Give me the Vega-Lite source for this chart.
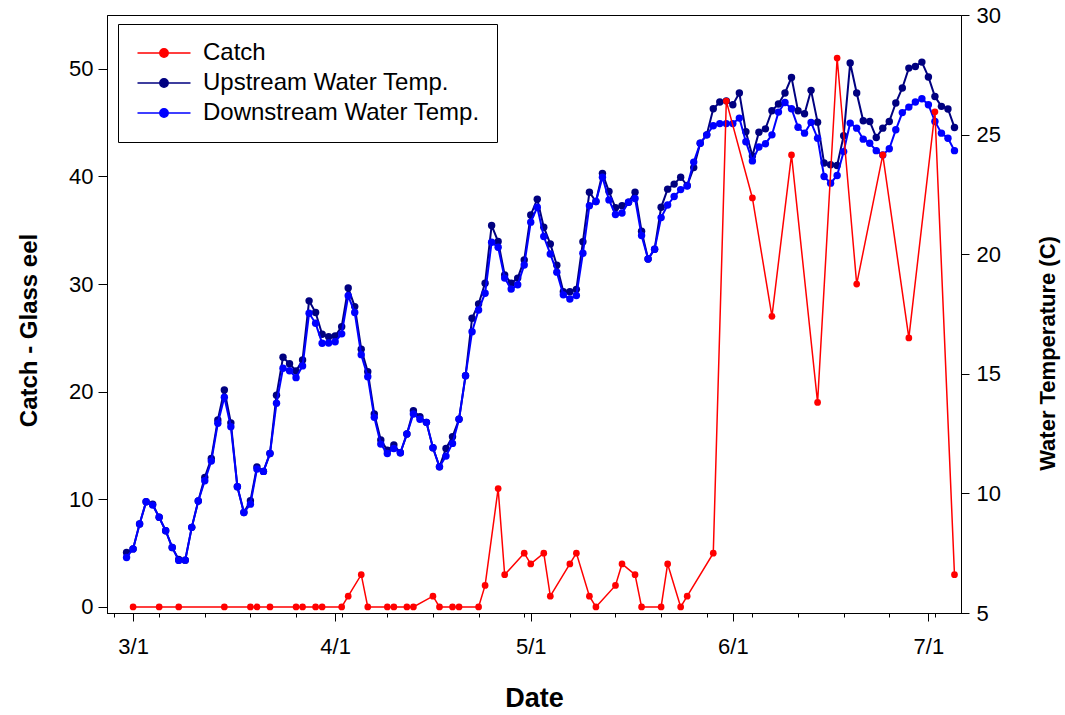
{
  "$schema": "https://vega.github.io/schema/vega-lite/v6.json",
  "width": 854,
  "height": 598,
  "autosize": {"type": "none"},
  "padding": {"left": 107, "top": 15, "right": 104, "bottom": 102},
  "background": "white",
  "config": {
    "view": {"stroke": "black", "strokeWidth": 1},
    "font": "Liberation Sans",
    "axis": {"grid": false, "domainColor": "black", "tickColor": "black", "labelColor": "black", "titleColor": "black", "labelFont": "Liberation Sans", "titleFont": "Liberation Sans", "labelFontSize": 22, "titleFontSize": 27, "titleFontWeight": "bold", "domainWidth": 1, "tickWidth": 1}
  },
  "datasets": {
    "temp": [
      {"d":"2006-02-28","u":7.53,"w":7.32},{"d":"2006-03-01","u":7.68,"w":7.68},{"d":"2006-03-02","u":8.72,"w":8.72},{"d":"2006-03-03","u":9.65,"w":9.65},{"d":"2006-03-04","u":9.55,"w":9.51},{"d":"2006-03-05","u":9.0,"w":9.0},{"d":"2006-03-06","u":8.44,"w":8.44},{"d":"2006-03-07","u":7.74,"w":7.74},{"d":"2006-03-08","u":7.24,"w":7.2},{"d":"2006-03-09","u":7.21,"w":7.21},{"d":"2006-03-10","u":8.58,"w":8.58},{"d":"2006-03-11","u":9.68,"w":9.68},{"d":"2006-03-12","u":10.67,"w":10.53},{"d":"2006-03-13","u":11.46,"w":11.35},{"d":"2006-03-14","u":13.07,"w":12.93},{"d":"2006-03-15","u":14.32,"w":14.02},{"d":"2006-03-16","u":12.95,"w":12.79},{"d":"2006-03-17","u":10.28,"w":10.28},{"d":"2006-03-18","u":9.2,"w":9.2},{"d":"2006-03-19","u":9.69,"w":9.55},{"d":"2006-03-20","u":11.11,"w":11.02},{"d":"2006-03-21","u":10.92,"w":10.92},{"d":"2006-03-22","u":11.67,"w":11.67},{"d":"2006-03-23","u":14.1,"w":13.77},{"d":"2006-03-24","u":15.69,"w":15.23},{"d":"2006-03-25","u":15.42,"w":15.13},{"d":"2006-03-26","u":15.12,"w":14.84},{"d":"2006-03-27","u":15.58,"w":15.33},{"d":"2006-03-28","u":18.05,"w":17.53},{"d":"2006-03-29","u":17.56,"w":17.11},{"d":"2006-03-30","u":16.65,"w":16.28},{"d":"2006-03-31","u":16.55,"w":16.29},
      {"d":"2006-04-01","u":16.58,"w":16.34},{"d":"2006-04-02","u":16.97,"w":16.67},{"d":"2006-04-03","u":18.59,"w":18.26},{"d":"2006-04-04","u":17.81,"w":17.56},{"d":"2006-04-05","u":16.03,"w":15.8},{"d":"2006-04-06","u":15.09,"w":14.88},{"d":"2006-04-07","u":13.32,"w":13.18},{"d":"2006-04-08","u":12.23,"w":12.06},{"d":"2006-04-09","u":11.81,"w":11.67},{"d":"2006-04-10","u":12.02,"w":11.88},{"d":"2006-04-11","u":11.7,"w":11.7},{"d":"2006-04-12","u":12.48,"w":12.48},{"d":"2006-04-13","u":13.46,"w":13.32},{"d":"2006-04-14","u":13.21,"w":13.1},{"d":"2006-04-15","u":12.97,"w":12.97},{"d":"2006-04-16","u":11.91,"w":11.91},{"d":"2006-04-17","u":11.11,"w":11.11},{"d":"2006-04-18","u":11.88,"w":11.56},{"d":"2006-04-19","u":12.37,"w":12.09},{"d":"2006-04-20","u":13.1,"w":13.1},{"d":"2006-04-21","u":14.92,"w":14.92},{"d":"2006-04-22","u":17.32,"w":16.76},{"d":"2006-04-23","u":17.92,"w":17.67},{"d":"2006-04-24","u":18.79,"w":18.37},{"d":"2006-04-25","u":21.2,"w":20.5},{"d":"2006-04-26","u":20.53,"w":20.29},{"d":"2006-04-27","u":19.13,"w":19.0},{"d":"2006-04-28","u":18.79,"w":18.54},{"d":"2006-04-29","u":19.0,"w":18.72},{"d":"2006-04-30","u":19.76,"w":19.55},
      {"d":"2006-05-01","u":21.64,"w":21.34},{"d":"2006-05-02","u":22.3,"w":21.96},{"d":"2006-05-03","u":21.13,"w":20.74},{"d":"2006-05-04","u":20.43,"w":20.01},{"d":"2006-05-05","u":19.54,"w":19.25},{"d":"2006-05-06","u":18.43,"w":18.3},{"d":"2006-05-07","u":18.43,"w":18.13},{"d":"2006-05-08","u":18.53,"w":18.27},{"d":"2006-05-09","u":20.52,"w":20.04},{"d":"2006-05-10","u":22.59,"w":22.03},{"d":"2006-05-11","u":22.2,"w":22.2},{"d":"2006-05-12","u":23.38,"w":23.22},{"d":"2006-05-13","u":22.62,"w":22.27},{"d":"2006-05-14","u":21.94,"w":21.66},{"d":"2006-05-15","u":22.03,"w":21.72},{"d":"2006-05-16","u":22.17,"w":22.17},{"d":"2006-05-17","u":22.59,"w":22.33},{"d":"2006-05-18","u":20.96,"w":20.78},{"d":"2006-05-19","u":19.8,"w":19.8},{"d":"2006-05-20","u":20.21,"w":20.21},{"d":"2006-05-21","u":21.96,"w":21.53},{"d":"2006-05-22","u":22.72,"w":22.06},{"d":"2006-05-23","u":22.93,"w":22.41},{"d":"2006-05-24","u":23.22,"w":22.7},{"d":"2006-05-25","u":22.87,"w":22.85},{"d":"2006-05-26","u":23.62,"w":23.85},{"d":"2006-05-27","u":24.64,"w":24.64},{"d":"2006-05-28","u":24.99,"w":24.99},{"d":"2006-05-29","u":26.08,"w":25.37},{"d":"2006-05-30","u":26.36,"w":25.46},{"d":"2006-05-31","u":26.41,"w":25.46},
      {"d":"2006-06-01","u":26.25,"w":25.46},{"d":"2006-06-02","u":26.74,"w":25.69},{"d":"2006-06-03","u":25.12,"w":24.7},{"d":"2006-06-04","u":24.11,"w":23.9},{"d":"2006-06-05","u":25.1,"w":24.48},{"d":"2006-06-06","u":25.24,"w":24.62},{"d":"2006-06-07","u":26.0,"w":24.99},{"d":"2006-06-08","u":26.28,"w":25.94},{"d":"2006-06-09","u":26.74,"w":26.34},{"d":"2006-06-10","u":27.39,"w":26.08},{"d":"2006-06-11","u":26.0,"w":25.31},{"d":"2006-06-12","u":25.87,"w":25.06},{"d":"2006-06-13","u":26.85,"w":25.51},{"d":"2006-06-14","u":25.52,"w":24.85},{"d":"2006-06-15","u":23.81,"w":23.25},{"d":"2006-06-16","u":23.74,"w":22.97},{"d":"2006-06-17","u":23.71,"w":23.29},{"d":"2006-06-18","u":24.95,"w":24.29},{"d":"2006-06-19","u":27.99,"w":25.48},{"d":"2006-06-20","u":26.74,"w":25.27},{"d":"2006-06-21","u":25.58,"w":24.81},{"d":"2006-06-22","u":25.55,"w":24.64},{"d":"2006-06-23","u":24.88,"w":24.33},{"d":"2006-06-24","u":25.27,"w":24.15},{"d":"2006-06-25","u":25.55,"w":24.41},{"d":"2006-06-26","u":26.32,"w":25.2},{"d":"2006-06-27","u":26.95,"w":25.92},{"d":"2006-06-28","u":27.78,"w":26.15},{"d":"2006-06-29","u":27.85,"w":26.36},{"d":"2006-06-30","u":28.03,"w":26.5},
      {"d":"2006-07-01","u":27.41,"w":26.25},{"d":"2006-07-02","u":26.59,"w":25.55},{"d":"2006-07-03","u":26.18,"w":25.06},{"d":"2006-07-04","u":26.07,"w":24.85},{"d":"2006-07-05","u":25.3,"w":24.33}
    ],
    "catch": [
      {"d":"2006-03-01","c":0},{"d":"2006-03-05","c":0},{"d":"2006-03-08","c":0},{"d":"2006-03-15","c":0},{"d":"2006-03-19","c":0},{"d":"2006-03-20","c":0},{"d":"2006-03-22","c":0},{"d":"2006-03-26","c":0},{"d":"2006-03-27","c":0},{"d":"2006-03-29","c":0},{"d":"2006-03-30","c":0},
      {"d":"2006-04-02","c":0},{"d":"2006-04-03","c":1},{"d":"2006-04-05","c":3},{"d":"2006-04-06","c":0},{"d":"2006-04-09","c":0},{"d":"2006-04-10","c":0},{"d":"2006-04-12","c":0},{"d":"2006-04-13","c":0},{"d":"2006-04-16","c":1},{"d":"2006-04-17","c":0},{"d":"2006-04-19","c":0},{"d":"2006-04-20","c":0},{"d":"2006-04-23","c":0},{"d":"2006-04-24","c":2},{"d":"2006-04-26","c":11},{"d":"2006-04-27","c":3},{"d":"2006-04-30","c":5},
      {"d":"2006-05-01","c":4},{"d":"2006-05-03","c":5},{"d":"2006-05-04","c":1},{"d":"2006-05-07","c":4},{"d":"2006-05-08","c":5},{"d":"2006-05-10","c":1},{"d":"2006-05-11","c":0},{"d":"2006-05-14","c":2},{"d":"2006-05-15","c":4},{"d":"2006-05-17","c":3},{"d":"2006-05-18","c":0},{"d":"2006-05-21","c":0},{"d":"2006-05-22","c":4},{"d":"2006-05-24","c":0},{"d":"2006-05-25","c":1},{"d":"2006-05-29","c":5},{"d":"2006-05-31","c":47},
      {"d":"2006-06-04","c":38},{"d":"2006-06-07","c":27},{"d":"2006-06-10","c":42},{"d":"2006-06-14","c":19},{"d":"2006-06-17","c":51},{"d":"2006-06-20","c":30},{"d":"2006-06-24","c":42},{"d":"2006-06-28","c":25},{"d":"2006-07-02","c":46},{"d":"2006-07-05","c":3}
    ]
  },
  "layer": [
    {
      "data": {"name": "temp"},
      "transform": [{"fold": ["u", "w"], "as": ["s", "v"]}],
      "encoding": {
        "x": {
          "field": "d", "type": "temporal",
          "scale": {"type": "utc", "domain": [{"year": 2006, "month": 2, "date": 25, "utc": true}, {"year": 2006, "month": 7, "date": 6, "utc": true}]},
          "axis": {
            "orient": "bottom", "labels": false, "tickSize": 4, "title": null,
            "values": [
              {"year":2006,"month":2,"date":26,"utc":true},{"year":2006,"month":3,"date":5,"utc":true},{"year":2006,"month":3,"date":12,"utc":true},{"year":2006,"month":3,"date":19,"utc":true},{"year":2006,"month":3,"date":26,"utc":true},{"year":2006,"month":4,"date":2,"utc":true},{"year":2006,"month":4,"date":9,"utc":true},{"year":2006,"month":4,"date":16,"utc":true},{"year":2006,"month":4,"date":23,"utc":true},{"year":2006,"month":4,"date":30,"utc":true},{"year":2006,"month":5,"date":7,"utc":true},{"year":2006,"month":5,"date":14,"utc":true},{"year":2006,"month":5,"date":21,"utc":true},{"year":2006,"month":5,"date":28,"utc":true},{"year":2006,"month":6,"date":4,"utc":true},{"year":2006,"month":6,"date":11,"utc":true},{"year":2006,"month":6,"date":18,"utc":true},{"year":2006,"month":6,"date":25,"utc":true},{"year":2006,"month":7,"date":2,"utc":true}
            ]
          }
        },
        "y": {
          "field": "v", "type": "quantitative",
          "scale": {"domain": [5, 30], "nice": false, "zero": false},
          "axis": {"orient": "right", "values": [5, 10, 15, 20, 25, 30], "tickSize": 8, "labelPadding": 7, "title": "Water Temperature (C)", "titleFontSize": 22, "titleAngle": 270, "titleBaseline": "alphabetic", "titleAlign": "center", "titleX": 93, "titleY": 338}
        },
        "color": {
          "field": "s", "type": "nominal",
          "scale": {"domain": ["c", "u", "w"], "range": ["#ff0000", "#000080", "#0000ff"]},
          "legend": {
            "orient": "none", "legendX": 11, "legendY": 9, "title": null, "direction": "vertical",
            "strokeColor": "black", "fillColor": "white", "padding": 17,
            "symbolType": "M-2.65,0L2.65,0M0.42,0A0.42,0.42,0,1,1,-0.42,0A0.42,0.42,0,1,1,0.42,0Z",
            "symbolSize": 400, "symbolStrokeWidth": 1.5, "symbolOffset": 17,
            "labelFont": "Liberation Sans", "labelFontSize": 24, "labelColor": "black", "labelOffset": 27, "labelLimit": 500, "rowPadding": 6,
            "labelExpr": "datum.label == 'c' ? 'Catch' : datum.label == 'u' ? 'Upstream Water Temp.' : 'Downstream Water Temp.'",
            "encode": {"symbols": {"update": {"stroke": {"signal": "scale('color', datum.value)"}, "fill": {"signal": "scale('color', datum.value)"}, "opacity": {"value": 1}}}}
          }
        }
      },
      "layer": [
        {"transform": [{"filter": "datum.s == 'u'"}], "mark": {"type": "line", "strokeWidth": 2}},
        {"transform": [{"filter": "datum.s == 'u'"}], "mark": {"type": "point", "filled": true, "size": 55, "opacity": 1}},
        {"transform": [{"filter": "datum.s == 'w'"}], "mark": {"type": "line", "strokeWidth": 2}},
        {"transform": [{"filter": "datum.s == 'w'"}], "mark": {"type": "point", "filled": true, "size": 55, "opacity": 1}}
      ]
    },
    {
      "data": {"name": "catch"},
      "encoding": {
        "x": {
          "field": "d", "type": "temporal",
          "axis": {
            "orient": "bottom", "tickSize": 8, "labelPadding": 15, "labelExpr": "utcFormat(datum.value, '%-m/%-d')", "labelFlush": false, "labelOverlap": false,
            "title": "Date", "titleBaseline": "alphabetic", "titleY": 93,
            "values": [{"year":2006,"month":3,"date":1,"utc":true},{"year":2006,"month":4,"date":1,"utc":true},{"year":2006,"month":5,"date":1,"utc":true},{"year":2006,"month":6,"date":1,"utc":true},{"year":2006,"month":7,"date":1,"utc":true}]
          }
        },
        "y": {
          "field": "c", "type": "quantitative",
          "scale": {"domain": [-0.56, 55], "nice": false, "zero": false},
          "axis": {"orient": "left", "values": [0, 10, 20, 30, 40, 50], "tickSize": 9, "labelPadding": 5, "title": "Catch - Glass eel", "titleFontSize": 24, "titleAngle": 270, "titleBaseline": "alphabetic", "titleAlign": "center", "titleX": -71, "titleY": 315}
        },
        "color": {"datum": "c"}
      },
      "layer": [
        {"mark": {"type": "line", "strokeWidth": 1.5}},
        {"mark": {"type": "point", "filled": true, "size": 45, "opacity": 1}}
      ]
    }
  ],
  "resolve": {"scale": {"y": "independent"}, "axis": {"x": "independent", "y": "independent"}}
}
